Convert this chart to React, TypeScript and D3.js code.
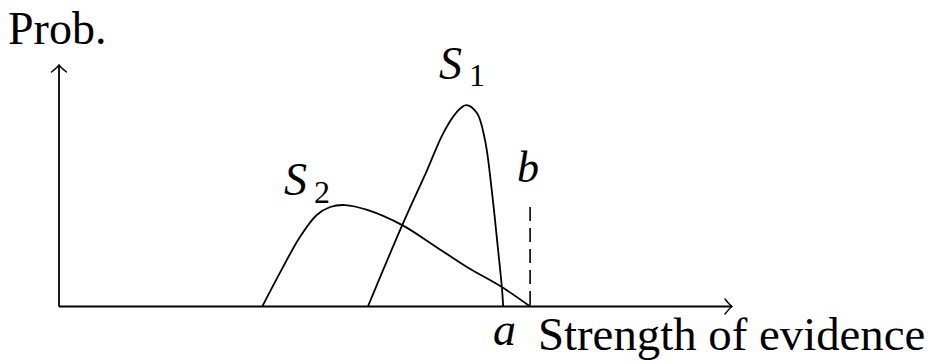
import React from "react";
import * as d3 from "d3";

// Curve S1 (data units: x 0..100 along evidence axis, y 0..100 probability)
const s1X = [45.9, 51.0, 54.7, 57.1, 59.1, 60.5, 62.1, 63.3, 64.3, 65.2, 65.8, 66.0];
const s1Y = [0, 33.7, 56.5, 71.8, 80.5, 83.4, 80.1, 68.9, 48.2, 24.6, 8.1, 0];
// Curve S2
const s2X = [30.2, 33.3, 35.8, 38.3, 40.3, 42.5, 45.8, 51.0, 55.6, 60.6, 65.8, 70.0];
const s2Y = [0, 16.4, 28.8, 37.9, 41.2, 42.0, 40.0, 33.7, 25.5, 16.4, 8.1, 0];
// Threshold b (dashed) and a
const bX = 70.0;
const bTop = 41.2;
const axisMax = [100, 100];

const W = 931;
const H = 364;
const FONT = "'Liberation Serif', 'Times New Roman', Times, serif";

export default function App() {
  const x = d3.scaleLinear().domain([0, axisMax[0]]).range([59, 732]);
  const y = d3.scaleLinear().domain([0, axisMax[1]]).range([306.5, 65]);

  const line = d3
    .line<[number, number]>()
    .x((d) => x(d[0]))
    .y((d) => y(d[1]))
    .curve(d3.curveCatmullRom.alpha(0.5));

  const s1 = s1X.map((v, i) => [v, s1Y[i]] as [number, number]);
  const s2 = s2X.map((v, i) => [v, s2Y[i]] as [number, number]);

  const sw = 1.8;
  const arrow = "M -7 -7.5 Q -2.5 -1.8 0 0 Q -2.5 1.8 -7 7.5";

  return (
    <svg
      width={W}
      height={H}
      style={{ position: "absolute", left: 0, top: 0, background: "#fff" }}
    >
      {/* axes */}
      <line x1={x(0)} y1={y(0)} x2={x(axisMax[0])} y2={y(0)} stroke="#000" strokeWidth={sw} />
      <line x1={x(0)} y1={y(0)} x2={x(0)} y2={y(axisMax[1])} stroke="#000" strokeWidth={sw} />
      <path
        d={arrow}
        transform={`translate(${x(axisMax[0])},${y(0)})`}
        fill="none"
        stroke="#000"
        strokeWidth={1.4}
        strokeLinecap="round"
      />
      <path
        d={arrow}
        transform={`translate(${x(0)},${y(axisMax[1])}) rotate(-90)`}
        fill="none"
        stroke="#000"
        strokeWidth={1.4}
        strokeLinecap="round"
      />

      {/* curves */}
      <path d={line(s2) || ""} fill="none" stroke="#000" strokeWidth={sw} />
      <path d={line(s1) || ""} fill="none" stroke="#000" strokeWidth={sw} />

      {/* dashed b */}
      <line
        x1={x(bX)}
        y1={y(bTop)}
        x2={x(bX)}
        y2={y(0)}
        stroke="#000"
        strokeWidth={1.6}
        strokeDasharray="14 7"
      />

      {/* labels */}
      <text x={8} y={44} fontFamily={FONT} fontSize={46} fill="#000">
        Prob.
      </text>
      <text x={439} y={79} fontFamily={FONT} fontSize={46} fill="#000">
        <tspan fontStyle="italic">S</tspan>
        <tspan fontSize={32} dx={7} dy={7}>1</tspan>
      </text>
      <text x={284} y={195} fontFamily={FONT} fontSize={46} fill="#000">
        <tspan fontStyle="italic">S</tspan>
        <tspan fontSize={32} dx={7} dy={8}>2</tspan>
      </text>
      <text x={517} y={182} fontFamily={FONT} fontSize={44} fontStyle="italic" fill="#000">
        b
      </text>
      <text x={493} y={345} fontFamily={FONT} fontSize={46} fontStyle="italic" fill="#000">
        a
      </text>
      <text x={538} y={350} fontFamily={FONT} fontSize={46.8} fill="#000">
        Strength of evidence
      </text>
    </svg>
  );
}
